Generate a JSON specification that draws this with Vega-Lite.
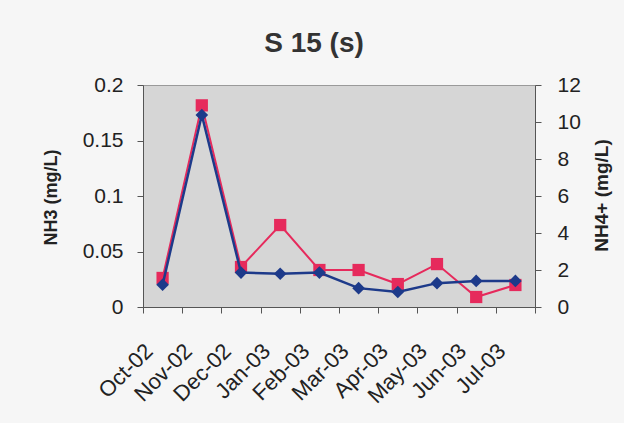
{
  "$schema": "https://vega.github.io/schema/vega-lite/v6.json",
  "width": 392,
  "height": 222,
  "autosize": "none",
  "padding": {"left": 143, "top": 85, "right": 89, "bottom": 116},
  "background": "#f6f6f6",
  "title": {
    "text": "S 15 (s)",
    "font": "Liberation Sans",
    "fontSize": 28,
    "fontWeight": "bold",
    "color": "#333333",
    "anchor": "middle",
    "baseline": "top",
    "offset": 0,
    "dx": -25,
    "dy": -16
  },
  "config": {
    "view": {"fill": "#d6d6d6", "stroke": "#9a9a9a", "strokeWidth": 1},
    "axis": {
      "labelFont": "Liberation Sans",
      "titleFont": "Liberation Sans",
      "labelColor": "#222222",
      "titleColor": "#222222",
      "domainColor": "#555555",
      "tickColor": "#555555",
      "grid": false
    }
  },
  "data": {
    "values": [
      {"month": "Oct-02", "nh3": 0.020, "nh4": 1.57},
      {"month": "Nov-02", "nh3": 0.173, "nh4": 10.9},
      {"month": "Dec-02", "nh3": 0.031, "nh4": 2.16},
      {"month": "Jan-03", "nh3": 0.030, "nh4": 4.43},
      {"month": "Feb-03", "nh3": 0.031, "nh4": 2.0},
      {"month": "Mar-03", "nh3": 0.017, "nh4": 2.0},
      {"month": "Apr-03", "nh3": 0.0135, "nh4": 1.24},
      {"month": "May-03", "nh3": 0.0215, "nh4": 2.32},
      {"month": "Jun-03", "nh3": 0.0235, "nh4": 0.54},
      {"month": "Jul-03", "nh3": 0.0235, "nh4": 1.19}
    ]
  },
  "encoding": {
    "x": {
      "field": "month",
      "type": "ordinal",
      "sort": null,
      "scale": {"type": "band", "paddingInner": 0, "paddingOuter": 0},
      "axis": {
        "title": null,
        "labelAngle": -45,
        "labelAlign": "right",
        "labelBaseline": "top",
        "labelFontSize": 22,
        "labelPadding": 27,
        "labelOffset": -21,
        "tickBand": "extent",
        "tickSize": 6
      }
    }
  },
  "layer": [
    {
      "layer": [
        {
          "mark": {"type": "line", "color": "#e62a5c", "strokeWidth": 2},
          "encoding": {"y": {"field": "nh4", "type": "quantitative"}}
        },
        {
          "mark": {"type": "point", "shape": "square", "filled": true, "opacity": 1, "color": "#e62a5c", "size": 150},
          "encoding": {"y": {"field": "nh4", "type": "quantitative"}}
        }
      ],
      "encoding": {
        "y": {
          "field": "nh4",
          "type": "quantitative",
          "scale": {"domain": [0, 12], "nice": false},
          "axis": {
            "orient": "right",
            "title": "NH4+ (mg/L)",
            "values": [0, 2, 4, 6, 8, 10, 12],
            "labelFontSize": 21,
            "labelPadding": 16,
            "tickSize": 6,
            "titleFontSize": 19,
            "titleFontWeight": "bold",
            "titleAngle": 270,
            "titleBaseline": "middle",
            "titleX": 66,
            "titleY": 110
          }
        }
      }
    },
    {
      "layer": [
        {
          "mark": {"type": "line", "color": "#1d3a8a", "strokeWidth": 2.5},
          "encoding": {"y": {"field": "nh3", "type": "quantitative"}}
        },
        {
          "mark": {"type": "point", "shape": "diamond", "filled": true, "opacity": 1, "color": "#1d3a8a", "size": 160},
          "encoding": {"y": {"field": "nh3", "type": "quantitative"}}
        }
      ],
      "encoding": {
        "y": {
          "field": "nh3",
          "type": "quantitative",
          "scale": {"domain": [0, 0.2], "nice": false},
          "axis": {
            "orient": "left",
            "title": "NH3 (mg/L)",
            "values": [0, 0.05, 0.1, 0.15, 0.2],
            "format": "~g",
            "labelFontSize": 21,
            "labelPadding": 14,
            "tickSize": 6,
            "titleFontSize": 18,
            "titleFontWeight": "bold",
            "titleAngle": 270,
            "titleBaseline": "middle",
            "titleX": -92,
            "titleY": 112
          }
        }
      }
    }
  ],
  "resolve": {"scale": {"y": "independent"}}
}
